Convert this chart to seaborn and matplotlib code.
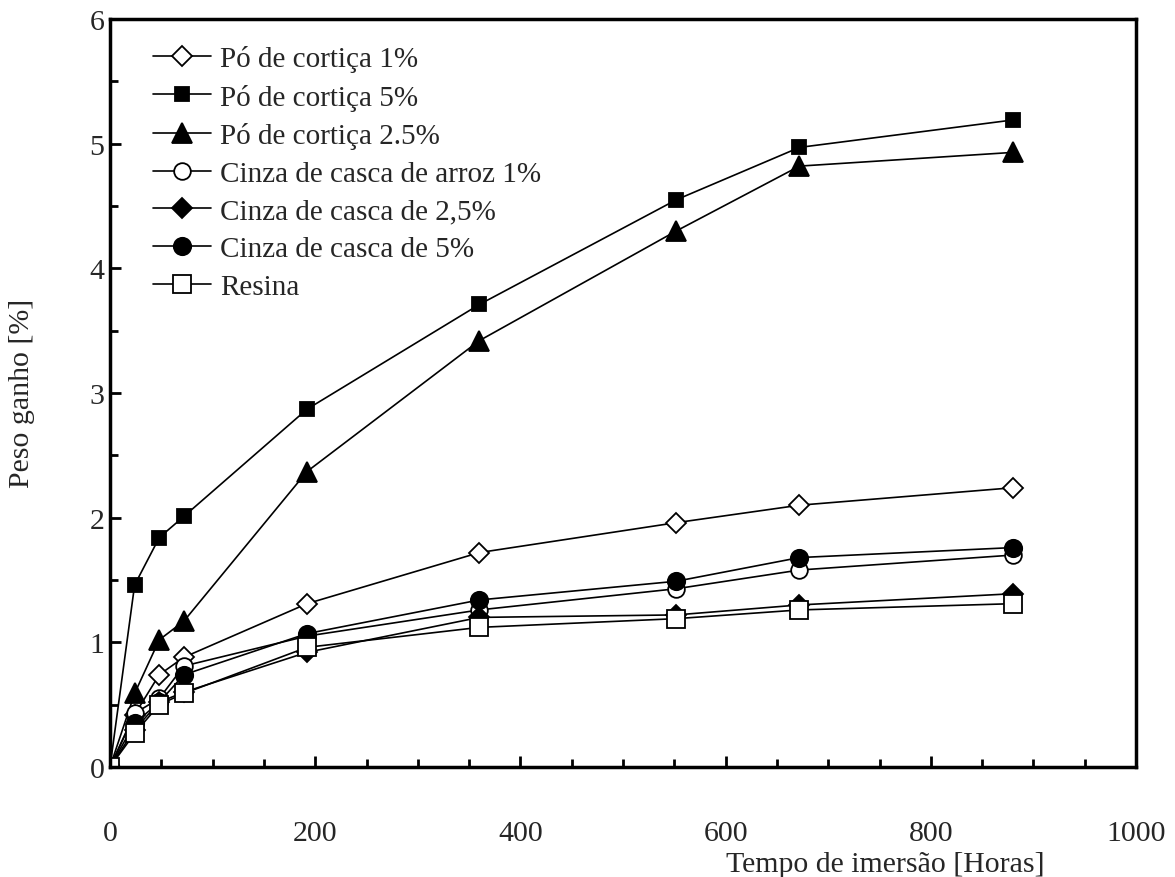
import matplotlib
matplotlib.use("Agg")
import matplotlib.pyplot as plt
import seaborn as sns
import pandas as pd
from matplotlib.ticker import MultipleLocator

hours = [0, 24, 48, 72, 192, 360, 552, 672, 880]

po_1 = [0, 0.42, 0.74, 0.88, 1.31, 1.72, 1.96, 2.10, 2.24]
po_5 = [0, 1.46, 1.84, 2.01, 2.87, 3.71, 4.55, 4.97, 5.19]
po_25 = [0, 0.59, 1.02, 1.17, 2.37, 3.42, 4.30, 4.82, 4.93]
cinza_arroz_1 = [0, 0.43, 0.55, 0.81, 1.05, 1.26, 1.43, 1.58, 1.70]
cinza_25 = [0, 0.30, 0.52, 0.60, 0.92, 1.20, 1.22, 1.30, 1.39]
cinza_5 = [0, 0.35, 0.52, 0.74, 1.07, 1.34, 1.49, 1.68, 1.76]
resina = [0, 0.27, 0.50, 0.59, 0.96, 1.12, 1.19, 1.26, 1.31]

labels = [
    "Pó de cortiça 1%",
    "Pó de cortiça 5%",
    "Pó de cortiça 2.5%",
    "Cinza de casca de arroz 1%",
    "Cinza de casca de 2,5%",
    "Cinza de casca de 5%",
    "Resina",
]
series = [po_1, po_5, po_25, cinza_arroz_1, cinza_25, cinza_5, resina]

styles = [
    dict(marker="D", markerfacecolor="white", markersize=10),
    dict(marker="s", markerfacecolor="black", markersize=10.5),
    dict(marker="^", markerfacecolor="black", markersize=14),
    dict(marker="o", markerfacecolor="white", markersize=12),
    dict(marker="D", markerfacecolor="black", markersize=10),
    dict(marker="o", markerfacecolor="black", markersize=12.5),
    dict(marker="s", markerfacecolor="white", markersize=13.5),
]

sns.set_theme(style="white")
plt.rcParams["font.family"] = ["Liberation Serif", "DejaVu Serif"]

fig = plt.figure(figsize=(11.75, 8.78), dpi=100)
ax = fig.add_axes([110 / 1175, 1 - 768 / 878, 1026 / 1175, 748 / 878])

for lab, ys, st in zip(labels, series, styles):
    df = pd.DataFrame({"x": hours, "y": ys})
    sns.lineplot(data=df, x="x", y="y", ax=ax, color="black", linewidth=1.2,
                 markeredgecolor="black", markeredgewidth=1.3, label=lab,
                 **st)

ax.set_xlim(0, 1000)
ax.set_ylim(0, 6)
ax.xaxis.set_major_locator(MultipleLocator(200))
ax.xaxis.set_minor_locator(MultipleLocator(50))
ax.yaxis.set_major_locator(MultipleLocator(1))
ax.yaxis.set_minor_locator(MultipleLocator(0.5))
ax.tick_params(axis="x", which="both", direction="in", bottom=True, top=False,
               labelsize=21.5, pad=38, width=2, color="black")
ax.tick_params(axis="x", which="major", length=8)
ax.tick_params(axis="x", which="minor", length=6)
ax.tick_params(axis="y", which="both", direction="in", left=True, right=False,
               labelsize=21.5, pad=4, width=2, color="black")
ax.tick_params(axis="y", which="major", length=8)
ax.tick_params(axis="y", which="minor", length=6)
for sp in ax.spines.values():
    sp.set_color("black")
    sp.set_linewidth(2.5)
ax.set_xlabel("")
ax.set_ylabel("")

fig.text(885 / 1175, 1 - 865 / 878, "Tempo de imersão [Horas]", ha="center",
         va="center", fontsize=21.5)
fig.text(22 / 1175, 1 - 393 / 878, "Peso ganho [%]", ha="center", va="center",
         rotation=90, fontsize=21.5)

leg = ax.legend(loc="upper left", bbox_to_anchor=(0.042, 0.965), frameon=False,
                fontsize=21, borderaxespad=0, borderpad=0, handlelength=2.0,
                handletextpad=0.3, labelspacing=0.39)

fig.savefig("out.png", dpi=100)
